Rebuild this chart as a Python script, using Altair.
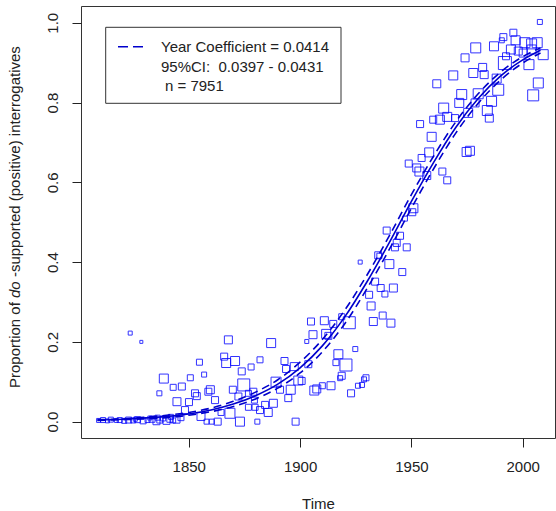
import altair as alt
import pandas as pd

# ---- scatter points: (year, proportion, marker side) ----
pt_year = [
    1809.5, 1811.5, 1813.5, 1815.0, 1817.5, 1819.0, 1821.0, 1823.0, 1825.0, 1827.0,
    1829.5, 1831.5, 1833.5, 1835.5, 1837.0, 1838.5, 1840.0, 1841.5, 1843.0, 1844.5,
    1846.5, 1826.0, 1832.5, 1836.0, 1842.0,
    1848.3, 1850.1, 1855.5, 1858.0, 1860.3, 1863.0, 1864.5, 1868.5, 1873.0, 1876.8,
    1879.8, 1880.8, 1882.0, 1898.0, 1884.3, 1885.7, 1888.0, 1879.0, 1879.5, 1891.0,
    1889.2, 1895.8, 1894.7, 1899.2, 1900.7, 1893.0, 1893.7, 1897.4, 1903.7, 1887.0,
    1882.0, 1903.0,
    1823.7, 1828.7, 1867.8, 1865.9, 1866.8, 1870.8, 1854.8, 1878.0, 1873.8, 1838.8,
    1850.7, 1856.9, 1874.7, 1843.0, 1846.9, 1859.7, 1858.8, 1852.8, 1853.6, 1869.8,
    1872.3, 1876.8, 1836.8, 1844.7, 1861.8,
    1904.9, 1910.9, 1914.9, 1922.1, 1918.7, 1905.8, 1911.7, 1912.7, 1917.2, 1924.8,
    1916.1, 1920.6, 1918.7, 1918.0, 1929.6, 1928.7, 1926.0, 1927.8, 1913.9, 1910.0,
    1907.5, 1906.4, 1922.9, 1927.0, 1935.6, 1933.7, 1931.0, 1931.9, 1932.9,
    1953.9, 1959.1, 1959.8, 1962.8, 1966.1, 1969.6, 1958.0, 1954.6, 1948.8, 1952.4,
    1953.6, 1956.9, 1963.9, 1966.1, 1950.9, 1950.4, 1947.1, 1938.9, 1944.9, 1943.4,
    1942.6, 1947.9, 1935.1, 1940.1, 1945.9, 1936.2, 1941.9, 1938.1, 1937.1, 1940.8,
    1964.5, 1976.3, 1974.8, 1961.4,
    2007.7, 1995.8, 1991.3, 1990.6, 1996.8, 1978.9, 1987.1, 2001.0, 2004.0, 2006.5,
    2004.0, 1994.7, 1998.0, 2000.2, 2009.2, 1992.5, 1974.1, 1992.0, 2002.8, 2007.0,
    2004.7, 1982.0, 1977.8, 1982.7, 1968.8, 1988.3, 1989.0, 1972.6, 1980.0, 1971.5,
    1986.0, 1978.6, 1975.5, 1984.1, 1985.0,
]
pt_prop = [
    0.003, 0.004, 0.002, 0.005, 0.003, 0.004, 0.002, 0.004, 0.003, 0.005,
    0.002, 0.004, 0.006, 0.001, 0.004, 0.008, 0.002, 0.006, 0.003, 0.005,
    0.010, 0.006, 0.009, 0.010, 0.012,
    0.029, 0.049, 0.013, 0.000, 0.000, 0.000, 0.023, 0.021, 0.000, 0.036,
    0.036, 0.000, 0.029, 0.000, 0.042, 0.023, 0.046, 0.075, 0.054, 0.080,
    0.099, 0.080, 0.059, 0.103, 0.102, 0.152, 0.132, 0.138, 0.144, 0.197,
    0.155, 0.201,
    0.222, 0.200, 0.205, 0.163, 0.147, 0.152, 0.149, 0.137, 0.126, 0.108,
    0.110, 0.118, 0.092, 0.086, 0.088, 0.080, 0.075, 0.071, 0.064, 0.080,
    0.063, 0.071, 0.071, 0.050, 0.054,
    0.251, 0.253, 0.245, 0.248, 0.263, 0.218, 0.220, 0.215, 0.169, 0.182,
    0.148, 0.142, 0.115, 0.109, 0.110, 0.106, 0.090, 0.092, 0.090, 0.090,
    0.082, 0.078, 0.071, 0.400, 0.416, 0.351, 0.318, 0.290, 0.251,
    0.746, 0.714, 0.757, 0.757, 0.764, 0.761, 0.675, 0.661, 0.647, 0.636,
    0.627, 0.617, 0.627, 0.605, 0.535, 0.525, 0.509, 0.479, 0.466, 0.448,
    0.437, 0.437, 0.417, 0.395, 0.375, 0.335, 0.335, 0.320, 0.266, 0.247,
    0.786, 0.679, 0.676, 0.847,
    1.002, 0.975, 0.964, 0.956, 0.956, 0.937, 0.941, 0.950, 0.947, 0.950,
    0.933, 0.933, 0.929, 0.924, 0.920, 0.916, 0.912, 0.899, 0.895, 0.849,
    0.818, 0.888, 0.874, 0.870, 0.868, 0.860, 0.832, 0.820, 0.822, 0.799,
    0.803, 0.799, 0.774, 0.780, 0.761,
]
pt_side = [
    4, 5, 4, 5, 4, 5, 5, 6, 5, 6,
    6, 5, 6, 7, 6, 5, 7, 6, 5, 7,
    6, 4, 4, 5, 5,
    7, 7, 8, 5, 5, 7, 6, 10, 9, 6,
    6, 5, 7, 7, 7, 8, 8, 7, 6, 7,
    10, 9, 7, 9, 7, 7, 7, 8, 7, 9,
    6, 4,
    4, 3, 8, 7, 9, 9, 6, 6, 7, 9,
    6, 5, 12, 6, 7, 8, 7, 7, 7, 7,
    7, 6, 5, 8, 7,
    7, 8, 7, 12, 6, 8, 9, 7, 9, 5,
    6, 12, 7, 5, 6, 5, 5, 5, 8, 6,
    8, 9, 7, 4, 5, 7, 7, 8, 8,
    7, 9, 7, 9, 9, 7, 9, 7, 7, 8,
    9, 8, 7, 7, 9, 7, 5, 7, 7, 7,
    7, 7, 7, 9, 7, 7, 8, 6, 7, 8,
    10, 9, 9, 8,
    5, 7, 7, 5, 9, 10, 9, 10, 10, 10,
    9, 9, 8, 8, 10, 7, 8, 13, 10, 10,
    11, 8, 9, 8, 9, 9, 11, 10, 10, 9,
    10, 8, 9, 10, 8,
]

# ---- fitted logistic curve and 95% band ----
fit_year = [1809, 1820, 1830, 1840, 1850, 1860, 1870, 1880, 1890, 1900, 1910,
            1920, 1930, 1940, 1950, 1960, 1970, 1980, 1990, 2000, 2008]
fit_mid = [0.004, 0.006, 0.009, 0.013, 0.019, 0.029, 0.044, 0.065, 0.094, 0.135, 0.190,
           0.262, 0.350, 0.448, 0.552, 0.650, 0.738, 0.810, 0.866, 0.907, 0.931]
fit_lo = [0.003, 0.005, 0.007, 0.010, 0.016, 0.025, 0.038, 0.057, 0.084, 0.122, 0.175,
          0.245, 0.333, 0.431, 0.535, 0.634, 0.724, 0.798, 0.856, 0.899, 0.924]
fit_hi = [0.005, 0.007, 0.011, 0.016, 0.023, 0.034, 0.051, 0.074, 0.105, 0.149, 0.206,
          0.279, 0.367, 0.465, 0.569, 0.666, 0.752, 0.822, 0.876, 0.915, 0.937]

x_ticks = [1850, 1900, 1950, 2000]
y_ticks = [0.0, 0.2, 0.4, 0.6, 0.8, 1.0]
legend_lines = ["Year Coefficient = 0.0414", "95%CI: \u00a00.0397 - 0.0431", "n = 7951"]

FONT = "Liberation Sans"
TXT = "#222222"
PT_COL = "#0000FF"
LN_COL = "#0000CC"

pts = pd.DataFrame({"year": pt_year, "prop": pt_prop, "side": pt_side})
crv = pd.DataFrame({"year": fit_year, "mid": fit_mid, "lo": fit_lo, "hi": fit_hi})

xscale = alt.Scale(domain=[1801.6, 2014.5], nice=False, zero=False)
yscale = alt.Scale(domain=[-0.041, 1.042], nice=False, zero=False)

xaxis = alt.Axis(values=x_ticks, format="d", grid=False, domain=False,
                 tickSize=9, tickColor=TXT, labelFont=FONT, labelFontSize=15,
                 labelColor=TXT, labelPadding=12, title="Time", titleFont=FONT,
                 titleFontSize=15, titleFontWeight="normal", titleColor=TXT,
                 titleY=65, titleBaseline="middle")
yaxis = alt.Axis(values=y_ticks, format=".1f", grid=False, domain=False,
                 tickSize=9, tickColor=TXT, labelFont=FONT, labelFontSize=15,
                 labelColor=TXT, labelAngle=270, labelAlign="center",
                 labelBaseline="bottom", labelPadding=12, title="")

X = alt.X("year:Q", scale=xscale, axis=xaxis)

points = alt.Chart(pts).mark_point(
    shape="square", filled=False, color=PT_COL, strokeWidth=1, opacity=0.8
).encode(
    x=X,
    y=alt.Y("prop:Q", scale=yscale, axis=yaxis),
    size=alt.Size("side:Q", scale=alt.Scale(type="pow", exponent=2, domain=[0, 14],
                                            range=[0, 196]), legend=None),
)

def curve(field, dashed):
    kw = dict(color=LN_COL, strokeWidth=1.6, interpolate="monotone")
    if dashed:
        kw["strokeDash"] = [8, 5]
    return alt.Chart(crv).mark_line(**kw).encode(
        x=X, y=alt.Y(f"{field}:Q", scale=yscale, axis=yaxis))

one = alt.Data(values=[{}])

legend_box = alt.Chart(one).mark_rect(fill="white", stroke="#333333", strokeWidth=1).encode(
    x=alt.value(24.7), x2=alt.value(260), y=alt.value(21.3), y2=alt.value(97.3))
legend_dash = alt.Chart(one).mark_rule(color=LN_COL, strokeWidth=1.6, strokeDash=[10, 5]).encode(
    x=alt.value(37), x2=alt.value(62), y=alt.value(40.7))

def txt(s, x, y, angle=0, style="normal"):
    kw = dict(font=FONT, fontSize=15, color=TXT, align="left", baseline="middle",
              fontStyle=style)
    if angle:
        kw["angle"] = angle
    return alt.Chart(one).mark_text(**kw).encode(
        x=alt.value(x), y=alt.value(y), text=alt.value(s))

legend_texts = [
    txt(legend_lines[0], 80, 41),
    txt(legend_lines[1], 80, 61),
    txt(legend_lines[2], 84, 80),
]

ytitle = [
    txt("Proportion of", -66, 382, angle=270),
    txt("do", -66, 292, angle=270, style="italic"),
    txt("-supported (positive) interrogatives", -66, 271.1, angle=270),
]

chart = alt.layer(
    points,
    curve("lo", True), curve("hi", True), curve("mid", False),
    legend_box, legend_dash, *legend_texts, *ytitle,
).properties(
    width=474, height=432,
    autosize=alt.AutoSizeParams(type="none"),
    padding={"left": 81, "top": 6, "right": 1, "bottom": 73},
    background="white",
).configure_view(stroke="#333333", strokeWidth=1)

chart.save("out.html", embed_options={"renderer": "svg", "actions": False})
